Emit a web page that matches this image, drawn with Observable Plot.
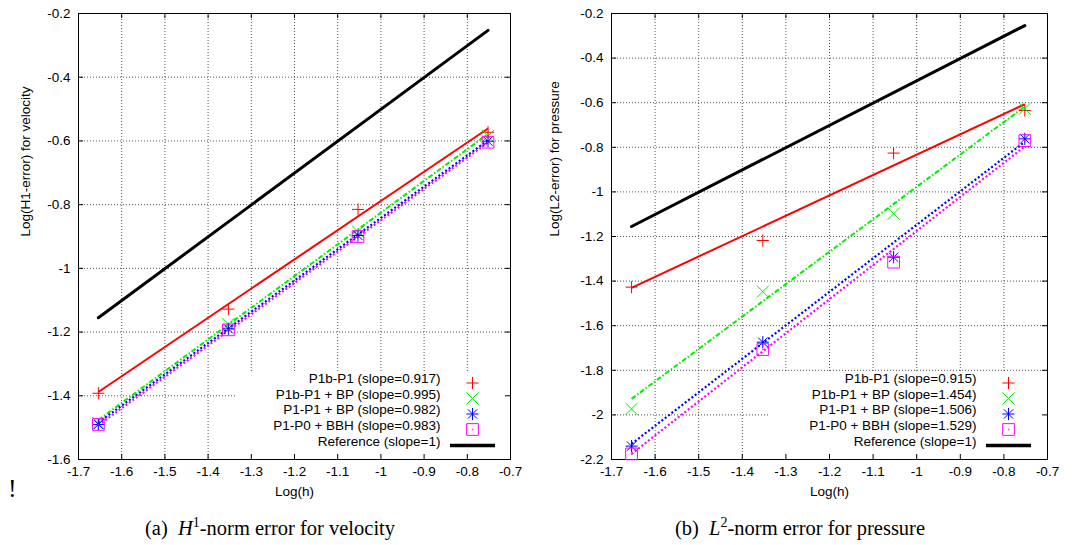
<!DOCTYPE html>
<html><head><meta charset="utf-8">
<script src="https://cdn.jsdelivr.net/npm/d3@7"></script>
<script src="https://cdn.jsdelivr.net/npm/@observablehq/plot@0.6"></script>
<style>
body{margin:0;background:#fff;}
#wrap{position:relative;width:1075px;height:545px;overflow:hidden;background:#fff;}
.panel{position:absolute;top:0;}
.cap{position:absolute;top:516px;font-family:"Liberation Serif","Times New Roman",serif;font-size:20.5px;line-height:24px;white-space:nowrap;transform:translateX(-50%);}
.cap .sup{font-size:14px;position:relative;top:-8px;}
#bang{position:absolute;left:8px;top:474px;font-family:"Liberation Serif",serif;font-size:26px;line-height:30px;}
</style></head><body>
<div id="wrap">
  <div class="panel" id="pa" style="left:0"></div>
  <div class="panel" id="pb" style="left:537px"></div>
  <div class="cap" style="left:270px">(a)&nbsp;&nbsp;<i>H</i><span class="sup">1</span>-norm error for velocity</div>
  <div class="cap" style="left:800px">(b)&nbsp;&nbsp;<i>L</i><span class="sup">2</span>-norm error for pressure</div>
  <div id="bang">!</div>
</div>
<script>
// ---- data ----
const logH = [-1.654, -1.353, -1.053, -0.752];
const fitX = [-1.654, -0.752];
const xTicks = [-1.7, -1.6, -1.5, -1.4, -1.3, -1.2, -1.1, -1.0, -0.9, -0.8, -0.7];
const yTicksA = [-1.6, -1.4, -1.2, -1.0, -0.8, -0.6, -0.4, -0.2];
const yTicksB = [-2.2, -2.0, -1.8, -1.6, -1.4, -1.2, -1.0, -0.8, -0.6, -0.4, -0.2];
const seriesNames = ["P1b-P1", "P1b-P1 + BP", "P1-P1 + BP", "P1-P0 + BBH"];

// panel (a): H1 error for velocity
const slopesA = ["0.917", "0.995", "0.982", "0.983"];
const ptsA_P1bP1   = [-1.392, -1.128, -0.815, -0.573];
const ptsA_P1bP1BP = [-1.486, -1.175, -0.885, -0.585];
const ptsA_P1P1BP  = [-1.490, -1.190, -0.897, -0.601];
const ptsA_P1P0BBH = [-1.490, -1.193, -0.900, -0.604];
const fitA_P1bP1   = [-1.388, -0.561];
const fitA_P1bP1BP = [-1.476, -0.578];
const fitA_P1P1BP  = [-1.484, -0.598];
const fitA_P1P0BBH = [-1.492, -0.605];
const refA = [-1.155, -0.253];

// panel (b): L2 error for pressure
const slopesB = ["0.915", "1.454", "1.506", "1.529"];
const ptsB_P1bP1   = [-1.427, -1.218, -0.826, -0.635];
const ptsB_P1bP1BP = [-1.973, -1.447, -1.098, -0.627];
const ptsB_P1P1BP  = [-2.140, -1.674, -1.293, -0.762];
const ptsB_P1P0BBH = [-2.175, -1.707, -1.315, -0.770];
const fitB_P1bP1   = [-1.430, -0.607];
const fitB_P1bP1BP = [-1.928, -0.617];
const fitB_P1P1BP  = [-2.130, -0.775];
const fitB_P1P0BBH = [-2.175, -0.796];
const refB = [-1.155, -0.254];

// ---- styles ----
const colors = ["#ff0000", "#00ee00", "#0000ff", "#ff00ff"];
const dashes = [null, "5,2,1.5,2", "2,2.2", "2,2.2"];
const lineW = [2, 2, 2.2, 2.2];
const FS = 13.5;

const fmt = d => String(+d.toFixed(1));
const lineSym = { draw(ctx) { ctx.moveTo(-22.5, 0); ctx.lineTo(22.5, 0); } };

function pointsOf(ys) { return logH.map((x, i) => ({x, y: ys[i]})); }
function fitOf(ys) { return fitX.map((x, i) => ({x, y: ys[i]})); }

function symbolMarks(data, k, opts) {
  const c = colors[k];
  const base = Object.assign({stroke: c, strokeWidth: 1}, opts);
  if (k === 0) return [Plot.dot(data, Object.assign({}, base, {symbol: "plus", r: 4}))];
  if (k === 1) return [Plot.dot(data, Object.assign({}, base, {symbol: "times", r: 5.6}))];
  if (k === 2) return [
    Plot.dot(data, Object.assign({}, base, {symbol: "plus", r: 4})),
    Plot.dot(data, Object.assign({}, base, {symbol: "times", r: 4.3}))
  ];
  return [
    Plot.dot(data, Object.assign({}, base, {symbol: "square", r: 6.6})),
    Plot.dot(data, Object.assign({}, base, {symbol: "circle", r: 0.4, fill: c}))
  ];
}

function txt(data, o) {
  return Plot.text(data, Object.assign({fill: "#000", fontSize: FS, fontFamily: "'Liberation Sans', Arial, sans-serif"}, o));
}

function panel(el, cfg) {
  const H = 510, mt = 13, mb = 51;
  const W = cfg.width, ml = cfg.ml, mr = cfg.mr;
  const fw = W - ml - mr, fh = H - mt - mb;
  const grid = {stroke: "#000", strokeWidth: 0.9, strokeDasharray: "1,2", strokeOpacity: 0.75};
  const marks = [
    Plot.ruleX(xTicks, Object.assign({x: d => d}, grid)),
    Plot.ruleY(cfg.yTicks, Object.assign({y: d => d}, grid)),
    (index, scales, values, dims) => {
      const r = d3.create("svg:rect")
        .attr("x", dims.width - dims.marginRight - cfg.legendW)
        .attr("y", dims.height - dims.marginBottom - cfg.legendH)
        .attr("width", cfg.legendW)
        .attr("height", cfg.legendH)
        .attr("fill", "#fff");
      return r.node();
    },
    Plot.frame({stroke: "#000", strokeWidth: 1}),
    Plot.ruleX(xTicks, {x: d => d, insetTop: fh - 5, stroke: "#000"}),
    Plot.ruleX(xTicks, {x: d => d, insetBottom: fh - 5, stroke: "#000"}),
    Plot.ruleY(cfg.yTicks, {y: d => d, insetRight: fw - 5, stroke: "#000"}),
    Plot.ruleY(cfg.yTicks, {y: d => d, insetLeft: fw - 5, stroke: "#000"}),
    txt(xTicks, {x: d => d, text: fmt, frameAnchor: "bottom", dy: 7, lineAnchor: "top"}),
    txt(cfg.yTicks, {y: d => d, text: fmt, frameAnchor: "left", dx: -8, textAnchor: "end"}),
    txt(["Log(h)"], {frameAnchor: "bottom", dy: 36}),
    txt([cfg.yLabel], {frameAnchor: "left", dx: cfg.yLabelDx, rotate: -90}),
    // reference line
    Plot.line(fitOf(cfg.ref), {x: "x", y: "y", stroke: "#000", strokeWidth: 3})
  ];
  cfg.fits.forEach((f, k) => {
    marks.push(Plot.line(fitOf(f), {x: "x", y: "y", stroke: colors[k], strokeWidth: lineW[k],
      strokeDasharray: dashes[k], strokeLinecap: "butt"}));
  });
  cfg.pts.forEach((p, k) => { marks.push(...symbolMarks(pointsOf(p), k, {x: "x", y: "y"})); });
  // legend
  const rowDy = [-76.5, -61, -45.5, -30, -14];
  seriesNames.forEach((name, k) => {
    marks.push(txt([name + " (slope=" + cfg.slopes[k] + ")"], {frameAnchor: "bottom-right",
      dx: -cfg.legTextDx, dy: rowDy[k], textAnchor: "end"}));
    marks.push(...symbolMarks([0], k, {frameAnchor: "bottom-right", dx: -cfg.legSymDx, dy: rowDy[k]}));
  });
  marks.push(txt(["Reference (slope=1)"], {frameAnchor: "bottom-right",
    dx: -cfg.legTextDx, dy: rowDy[4], textAnchor: "end"}));
  marks.push(Plot.dot([0], {frameAnchor: "bottom-right", dx: -cfg.legSymDx, dy: rowDy[4],
    symbol: lineSym, stroke: "#000", strokeWidth: 3.5}));

  const svg = Plot.plot({
    width: W, height: H,
    marginLeft: ml, marginRight: mr, marginTop: mt, marginBottom: mb,
    style: {fontFamily: "'Liberation Sans', Arial, sans-serif", fontSize: FS + "px", background: "#fff", color: "#000", overflow: "visible"},
    x: {domain: [-1.7, -0.7], axis: null},
    y: {domain: cfg.yDomain, axis: null},
    marks
  });
  el.appendChild(svg);
}

panel(document.getElementById("pa"), {
  width: 537, ml: 78, mr: 27,
  yDomain: [-1.6, -0.2], yTicks: yTicksA,
  yLabel: "Log(H1-error) for velocity", yLabelDx: -53,
  slopes: slopesA,
  pts: [ptsA_P1bP1, ptsA_P1bP1BP, ptsA_P1P1BP, ptsA_P1P0BBH],
  fits: [fitA_P1bP1, fitA_P1bP1BP, fitA_P1P1BP, fitA_P1P0BBH],
  ref: refA,
  legendW: 275, legendH: 86, legTextDx: 70, legSymDx: 38
});
panel(document.getElementById("pb"), {
  width: 538, ml: 74, mr: 28,
  yDomain: [-2.2, -0.2], yTicks: yTicksB,
  yLabel: "Log(L2-error) for pressure", yLabelDx: -57,
  slopes: slopesB,
  pts: [ptsB_P1bP1, ptsB_P1bP1BP, ptsB_P1P1BP, ptsB_P1P0BBH],
  fits: [fitB_P1bP1, fitB_P1bP1BP, fitB_P1P1BP, fitB_P1P0BBH],
  ref: refB,
  legendW: 279, legendH: 86, legTextDx: 71, legSymDx: 39
});
</script>
</body></html>
